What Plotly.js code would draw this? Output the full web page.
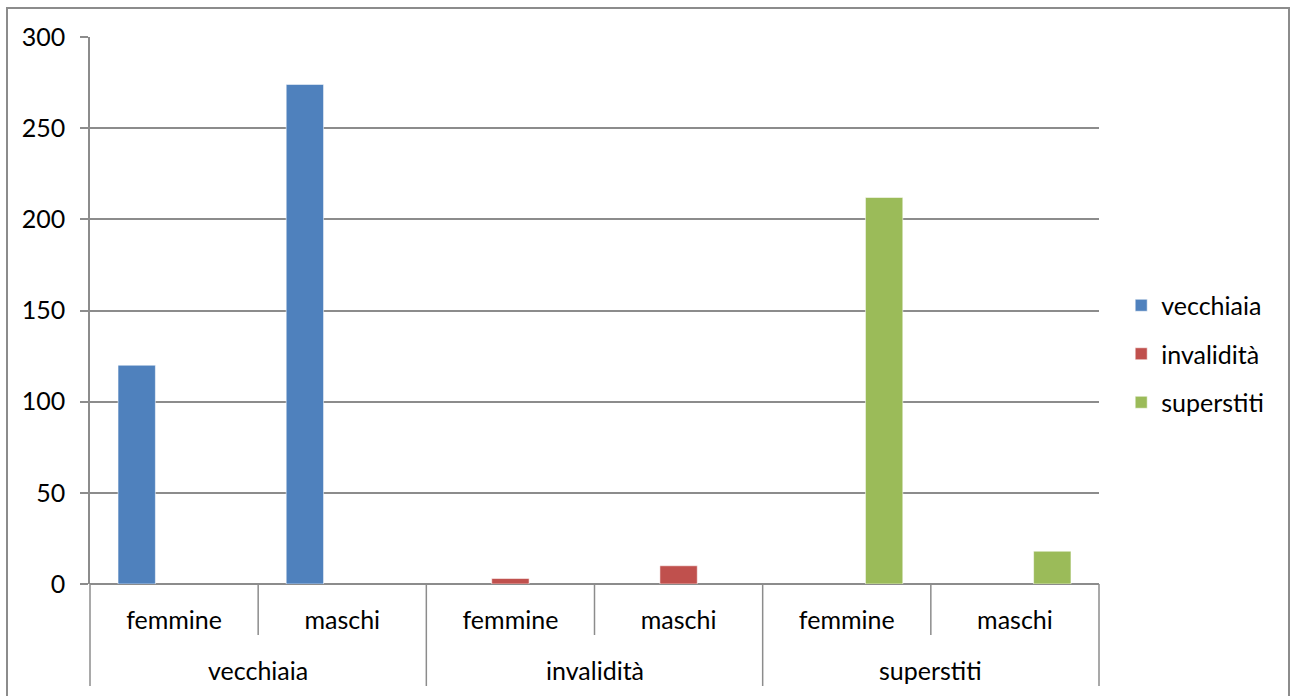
<!DOCTYPE html>
<html>
<head>
<meta charset="utf-8">
<script src="https://cdn.plot.ly/plotly-3.0.1.min.js"></script>
<style>
  html, body { margin: 0; padding: 0; background: #fff; }
  #wrap { position: relative; width: 1291px; height: 696px; overflow: hidden; }
  #chart { width: 1291px; height: 696px; }
  #frame { position: absolute; left: 6px; top: 7px; width: 1284px; height: 720px;
           border: 2px solid #8c8c8c; pointer-events: none; box-sizing: border-box; }
</style>
</head>
<body>
<div id="wrap">
  <div id="chart"></div>
  <div id="frame"></div>
</div>
<script>
// ---- data ----
const groups = ["vecchiaia", "vecchiaia", "invalidità", "invalidità", "superstiti", "superstiti"];
const innerLabels = ["femmine", "maschi", "femmine", "maschi", "femmine", "maschi"];
const seriesNames = ["vecchiaia", "invalidità", "superstiti"];
const vecchiaia = [120, 274, null, null, null, null];
const invalidita = [null, null, 3, 10, null, null];
const superstiti = [null, null, null, null, 212, 18];
const yTicks = [0, 50, 100, 150, 200, 250, 300];

const colors = ["#4F81BD", "#C0504D", "#9BBB59"];
const FONT = "Lato, 'Open Sans', sans-serif";
const FS = 25;
const GRID = "#8c8c8c";

const idx = innerLabels.map((_, i) => i);
const seriesValues = [vecchiaia, invalidita, superstiti];

const traces = seriesValues.map((vals, k) => ({
  type: "bar",
  name: seriesNames[k],
  legendgroup: "g" + k,
  x: idx,
  y: vals,
  marker: { color: colors[k], line: { color: "rgba(255,255,255,0.55)", width: 1 } },
  hoverinfo: "x+y+name"
}));

// category boundaries for separator lines
const shapes = [];
const annotations = [];
const innerBottom = -51 / 547;   // inner separators end
const outerBottom = -102 / 547;  // outer separators end
let start = 0;
for (let i = 1; i <= groups.length; i++) {
  if (i === groups.length || groups[i] !== groups[i - 1]) {
    annotations.push({
      x: (start + i - 1) / 2, xref: "x",
      y: -86 / 547, yref: "paper",
      text: groups[start], showarrow: false,
      xanchor: "center", yanchor: "middle",
      font: { family: FONT, size: FS, color: "#000" }
    });
    if (i < groups.length) {
      shapes.push({ type: "line", xref: "x", yref: "paper", x0: i - 0.5, x1: i - 0.5,
                    y0: 0, y1: outerBottom, line: { color: GRID, width: 1.5 } });
    }
    start = i;
  } else {
    shapes.push({ type: "line", xref: "x", yref: "paper", x0: i - 0.5, x1: i - 0.5,
                  y0: 0, y1: innerBottom, line: { color: GRID, width: 1.5 } });
  }
}
// outer edges
[0, 1].forEach(px => shapes.push({ type: "line", xref: "paper", yref: "paper",
  x0: px, x1: px, y0: 0, y1: outerBottom, line: { color: GRID, width: 1.5 } }));

const layout = {
  width: 1291, height: 696,
  margin: { l: 90, r: 192, t: 37, b: 112 },
  paper_bgcolor: "#fff", plot_bgcolor: "#fff",
  font: { family: FONT, size: FS, color: "#000" },
  barmode: "group",
  bargap: 1 / 3,
  bargroupgap: 0,
  xaxis: {
    type: "linear",
    range: [-0.5, innerLabels.length - 0.5],
    tickvals: idx,
    ticktext: innerLabels,
    ticks: "",
    showgrid: false,
    zeroline: false,
    showline: false,
    ticklabelstandoff: 19,
    tickfont: { family: FONT, size: FS, color: "#000" }
  },
  yaxis: {
    range: [0, 300],
    tickvals: yTicks,
    ticks: "outside",
    ticklen: 8,
    tickwidth: 1.5,
    tickcolor: GRID,
    showline: true,
    linecolor: GRID,
    linewidth: 1.5,
    showgrid: true,
    gridcolor: GRID,
    gridwidth: 1.5,
    zeroline: true,
    zerolinecolor: GRID,
    zerolinewidth: 1.5,
    ticklabelstandoff: 10,
    tickfont: { family: FONT, size: FS, color: "#000" }
  },
  legend: {
    x: 1.022, xanchor: "left",
    y: 230 / 547, yanchor: "middle",
    font: { family: FONT, size: FS, color: "#000" },
    tracegroupgap: 13,
    itemwidth: 30,
    bgcolor: "rgba(0,0,0,0)"
  },
  shapes: shapes,
  annotations: annotations
};

Plotly.newPlot("chart", traces, layout, { displayModeBar: false, responsive: false });
</script>
</body>
</html>
